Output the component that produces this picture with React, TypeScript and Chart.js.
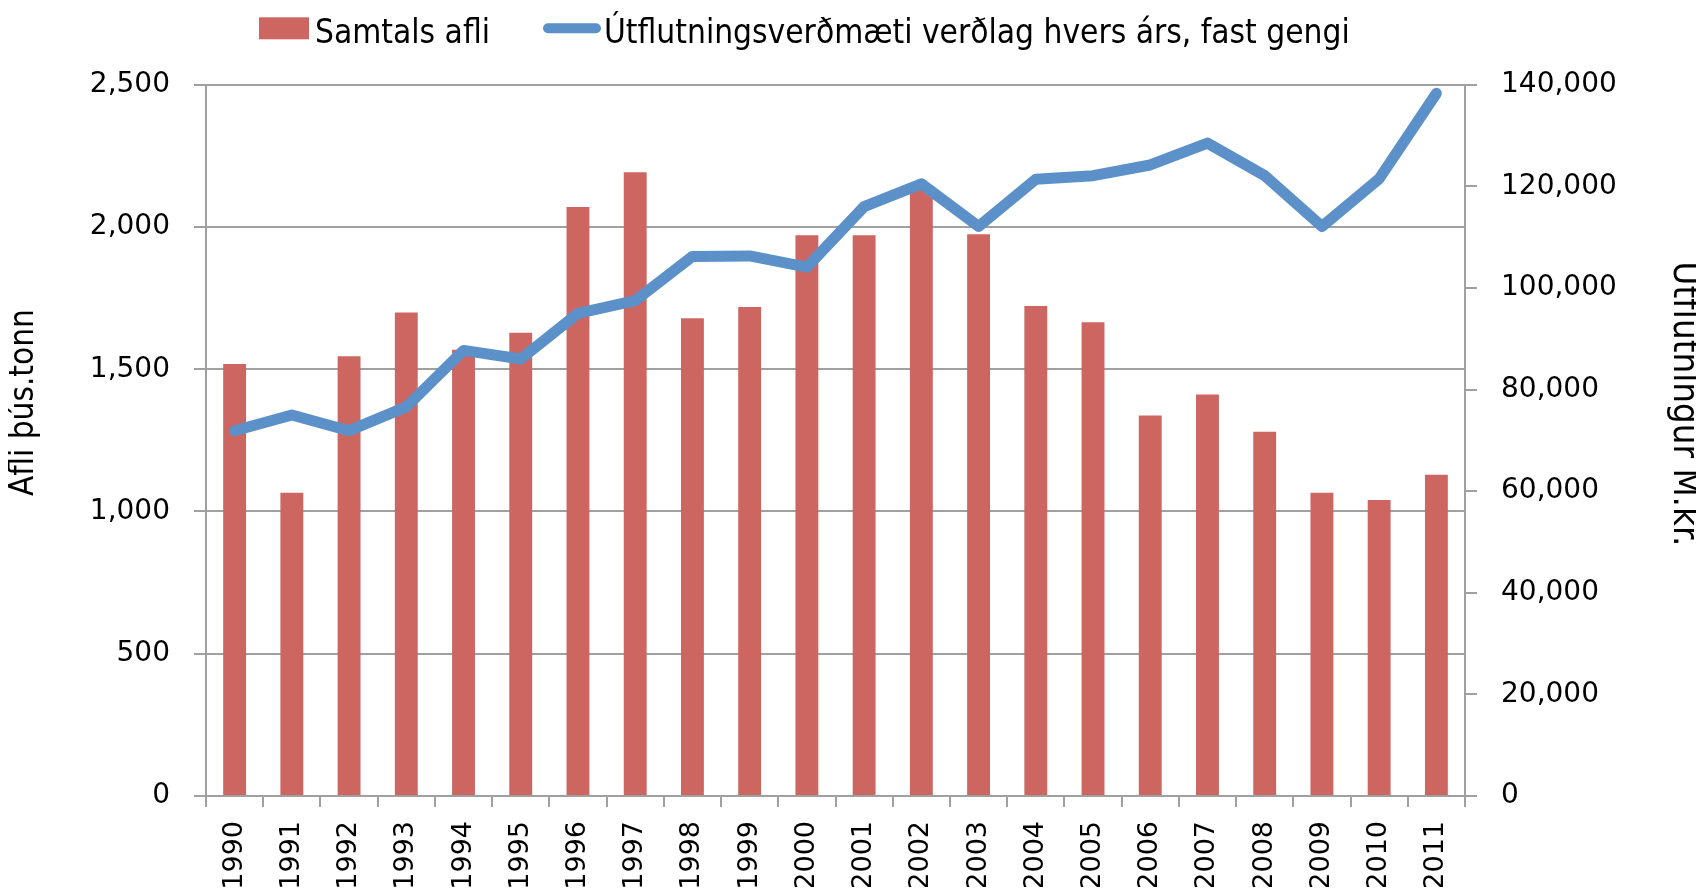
import React, { useEffect, useRef } from 'react';
import { Chart, registerables } from 'chart.js';

Chart.register(...registerables);

// ---------- data ----------
const years = ['1990', '1991', '1992', '1993', '1994', '1995', '1996', '1997', '1998', '1999', '2000',
  '2001', '2002', '2003', '2004', '2005', '2006', '2007', '2008', '2009', '2010', '2011'];

// Samtals afli (þús. tonn) – left axis
const totalCatch = [1518, 1066, 1546, 1699, 1568, 1628, 2070, 2192, 1679, 1719, 1971,
  1971, 2145, 1974, 1722, 1665, 1337, 1411, 1280, 1066, 1040, 1129];

// Útflutningsverðmæti (M.kr.) – right axis
const exportValue = [71900, 75000, 71900, 76600, 87700, 86000, 95000, 97500, 106200, 106300, 104100,
  116000, 120500, 112100, 121400, 122100, 124200, 128500, 122100, 112100, 121500, 138300];

const barLabel = 'Samtals afli';
const lineLabel = 'Útflutningsverðmæti verðlag hvers árs, fast gengi';
const leftTitle = 'Afli þús.tonn';
const rightTitle = 'Útflutnlngur M.kr.';

const leftMax = 2500;
const leftStep = 500;
const rightMax = 140000;
const rightStep = 20000;

// ---------- styling ----------
const NARROW = '"Liberation Sans Narrow", "DejaVu Sans Condensed", "Arial Narrow", sans-serif';
const TICK_FAMILY = '"DejaVu Sans", Verdana, sans-serif';
const GRID = '#A0A0A0';
const BAR_COLOR = '#CD6661';
const LINE_COLOR = '#5B91C8';

function measure(text: string, family: string, size: number): number {
  const c = document.createElement('canvas').getContext('2d')!;
  c.font = `${size}px ${family}`;
  return c.measureText(text).width;
}
function fitSize(text: string, family: string, target: number): number {
  return (100 * target) / measure(text, family, 100);
}
function spaces(family: string, size: number, width: number): string {
  const w = measure(' ', family, size) || 1;
  return ' '.repeat(Math.max(0, Math.round(width / w)));
}

const legendPlugin = {
  id: 'excelLegend',
  afterDraw(chart: any, _args: any, opts: any) {
    const ctx = chart.ctx;
    const ds = chart.data.datasets;
    const bar = ds.find((d: any) => d.type !== 'line');
    const line = ds.find((d: any) => d.type === 'line');
    ctx.save();
    ctx.font = `${opts.size}px ${NARROW}`;
    ctx.textBaseline = 'alphabetic';
    ctx.textAlign = 'left';
    // bar item
    ctx.fillStyle = bar.backgroundColor;
    ctx.fillRect(opts.x1, opts.cy - 11, 50, 22);
    ctx.fillStyle = '#000';
    ctx.fillText(bar.label, opts.x1 + 56, opts.baseline);
    // line item
    ctx.strokeStyle = line.borderColor;
    ctx.lineWidth = 10;
    ctx.lineCap = 'round';
    ctx.beginPath();
    ctx.moveTo(opts.x2 + 5, opts.cy);
    ctx.lineTo(opts.x2 + 53, opts.cy);
    ctx.stroke();
    ctx.fillStyle = '#000';
    ctx.fillText(line.label, opts.x2 + 61, opts.baseline);
    ctx.restore();
  },
};

export default function App() {
  const ref = useRef<HTMLCanvasElement>(null);

  useEffect(() => {
    if (!ref.current) return;

    const legendSize = Math.min(40, fitSize(lineLabel, NARROW, 746));
    const leftSize = Math.min(42, fitSize(leftTitle, NARROW, 187));
    const rightSize = Math.min(42, fitSize(rightTitle, NARROW, 285));
    const leftText = spaces(NARROW, leftSize, 78) + leftTitle;
    const rightText = rightTitle + spaces(NARROW, rightSize, 68);

    const yTickFont = { family: TICK_FAMILY, size: 28 };
    const xTickFont = { family: TICK_FAMILY, size: 27 };

    const chart = new Chart(ref.current, {
      type: 'bar',
      data: {
        labels: years,
        datasets: [
          {
            type: 'line',
            label: lineLabel,
            data: exportValue,
            yAxisID: 'y1',
            borderColor: LINE_COLOR,
            backgroundColor: LINE_COLOR,
            borderWidth: 11,
            pointRadius: 0,
            tension: 0,
            fill: false,
            borderCapStyle: 'round',
            borderJoinStyle: 'round',
            order: 0,
          } as any,
          {
            type: 'bar',
            label: barLabel,
            data: totalCatch,
            yAxisID: 'y',
            backgroundColor: BAR_COLOR,
            categoryPercentage: 1,
            barPercentage: 0.4,
            order: 1,
          } as any,
        ],
      },
      options: {
        animation: false,
        responsive: true,
        maintainAspectRatio: false,
        locale: 'en-US',
        events: [],
        layout: { padding: { top: 76.7, left: 0, right: 0, bottom: 0 } },
        plugins: {
          legend: { display: false },
          tooltip: { enabled: false },
          excelLegend: { size: legendSize, x1: 251, x2: 535, cy: 20.3, baseline: 35 },
        } as any,
        scales: {
          x: {
            grid: {
              display: true,
              drawOnChartArea: false,
              drawTicks: true,
              tickLength: 11,
              color: GRID,
              lineWidth: 2,
              offset: true,
            },
            border: { display: true, color: GRID, width: 2 },
            ticks: {
              font: xTickFont,
              color: '#000',
              minRotation: 90,
              maxRotation: 90,
              autoSkip: false,
              padding: 14,
            },
            afterFit: (s: any) => { s.height = 91; },
          },
          y: {
            position: 'left',
            min: 0,
            max: leftMax,
            ticks: { stepSize: leftStep, font: yTickFont, color: '#000', padding: 24 },
            grid: { color: GRID, lineWidth: 2, tickLength: 12, drawTicks: true },
            border: { display: true, color: GRID, width: 2 },
            title: {
              display: true,
              text: leftText,
              color: '#000',
              padding: 0,
              font: { family: NARROW, size: leftSize, lineHeight: 32 / leftSize },
            },
            afterFit: (s: any) => { s.width = 198; },
          },
          y1: {
            position: 'right',
            min: 0,
            max: rightMax,
            ticks: { stepSize: rightStep, font: yTickFont, color: '#000', padding: 24 },
            grid: { drawOnChartArea: false, color: GRID, lineWidth: 2, tickLength: 12, drawTicks: true },
            border: { display: true, color: GRID, width: 2 },
            title: {
              display: true,
              text: rightText,
              color: '#000',
              padding: 0,
              font: { family: NARROW, size: rightSize, lineHeight: 26 / rightSize },
            },
            afterFit: (s: any) => { s.width = 231; },
          },
        },
      } as any,
      plugins: [legendPlugin],
    });

    return () => chart.destroy();
  }, []);

  return (
    <div style={{ position: 'relative', width: '100%', height: '879px' }}>
      <canvas ref={ref} />
    </div>
  );
}
